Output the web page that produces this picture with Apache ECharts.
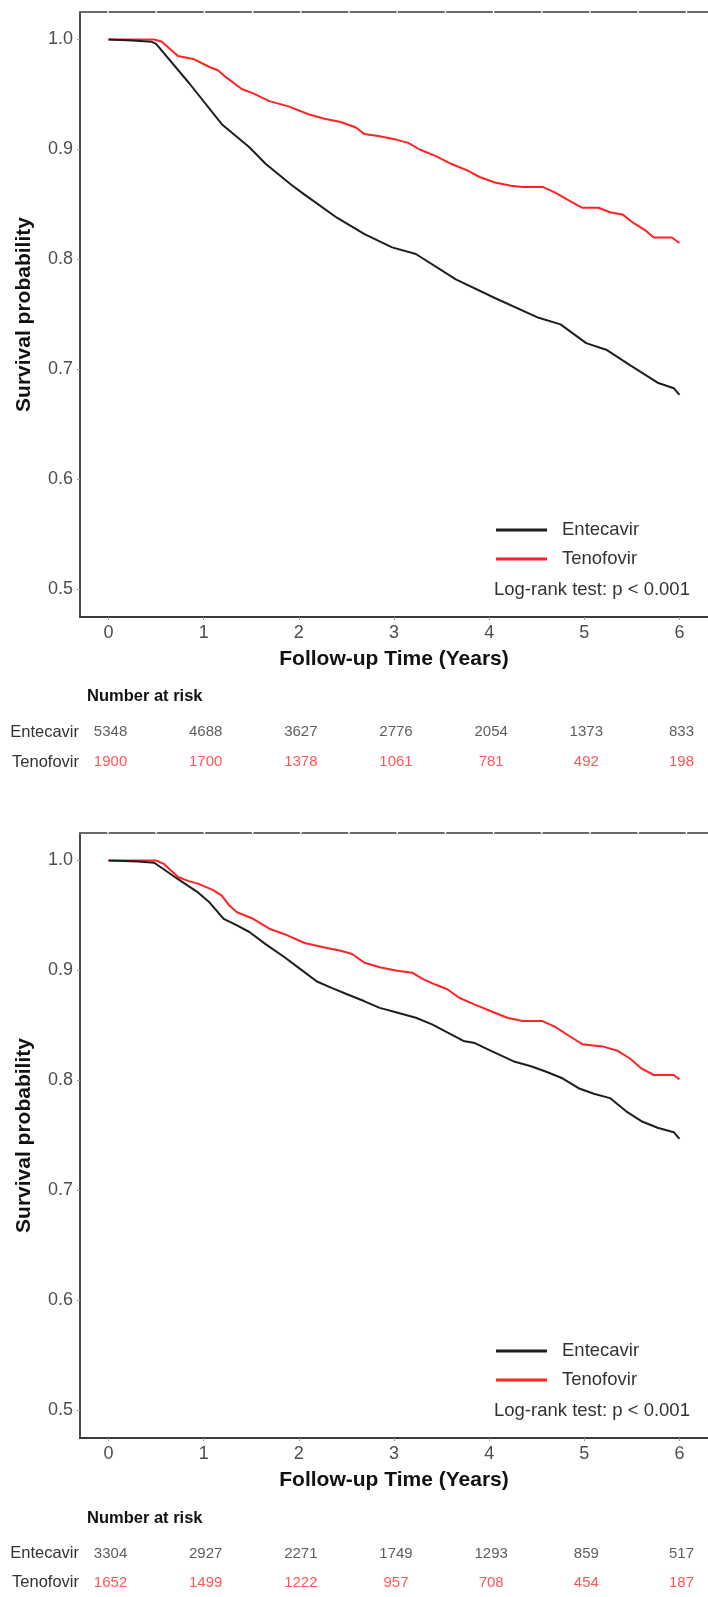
<!DOCTYPE html>
<html>
<head>
<meta charset="utf-8">
<script src="https://cdn.jsdelivr.net/npm/echarts@6/dist/echarts.min.js"></script>
<style>
html,body{margin:0;padding:0;background:#fff;}
#chart{width:708px;height:1597px;}
</style>
</head>
<body>
<div id="chart"></div>
<script>
// ---------- data ----------
const groups = ['Entecavir', 'Tenofovir'];
const xTicks = [0, 1, 2, 3, 4, 5, 6];
const yTicks = [0.5, 0.6, 0.7, 0.8, 0.9, 1.0];

// Panel 1
const p1EntTime = [0,0.25,0.45,0.5,0.85,1.19,1.48,1.65,1.92,2.06,2.4,2.69,2.98,3.23,3.65,4.06,4.52,4.75,5.02,5.23,5.48,5.77,5.94,6.0];
const p1EntSurv = [1.000,0.999,0.998,0.996,0.960,0.923,0.902,0.887,0.868,0.859,0.838,0.823,0.811,0.805,0.782,0.765,0.747,0.741,0.724,0.718,0.704,0.688,0.683,0.677];
const p1TenTime = [0,0.48,0.56,0.73,0.9,1.06,1.15,1.23,1.4,1.52,1.69,1.9,2.1,2.27,2.44,2.6,2.69,2.85,3.02,3.15,3.27,3.44,3.6,3.77,3.9,4.06,4.23,4.35,4.56,4.69,4.85,4.98,5.15,5.27,5.4,5.52,5.65,5.73,5.92,6.0];
const p1TenSurv = [1.000,1.000,0.998,0.985,0.982,0.975,0.972,0.966,0.955,0.951,0.944,0.939,0.932,0.928,0.925,0.920,0.914,0.912,0.909,0.906,0.900,0.894,0.887,0.881,0.875,0.870,0.867,0.866,0.866,0.861,0.853,0.847,0.847,0.843,0.841,0.833,0.826,0.820,0.820,0.815];
const p1RiskEnt = [5348, 4688, 3627, 2776, 2054, 1373, 833];
const p1RiskTen = [1900, 1700, 1378, 1061, 781, 492, 198];

// Panel 2
const p2EntTime = [0,0.31,0.48,0.58,0.73,0.94,1.06,1.21,1.35,1.48,1.65,1.85,2.02,2.19,2.35,2.52,2.69,2.85,3.02,3.23,3.4,3.6,3.73,3.85,4.02,4.27,4.44,4.6,4.77,4.94,5.1,5.27,5.44,5.6,5.77,5.94,6.0];
const p2EntSurv = [1.000,0.999,0.998,0.992,0.983,0.971,0.962,0.947,0.941,0.935,0.924,0.912,0.901,0.890,0.884,0.878,0.872,0.866,0.862,0.857,0.851,0.842,0.836,0.834,0.827,0.817,0.813,0.808,0.802,0.793,0.788,0.784,0.772,0.763,0.757,0.753,0.747];
const p2TenTime = [0,0.5,0.58,0.73,0.85,0.94,1.1,1.19,1.27,1.35,1.52,1.69,1.85,2.06,2.27,2.44,2.56,2.69,2.85,3.02,3.19,3.31,3.44,3.56,3.69,3.85,4.02,4.19,4.35,4.56,4.69,4.85,4.98,5.19,5.35,5.48,5.6,5.73,5.94,6.0];
const p2TenSurv = [1.000,1.000,0.997,0.985,0.981,0.979,0.973,0.968,0.959,0.953,0.947,0.938,0.933,0.925,0.921,0.918,0.915,0.907,0.903,0.900,0.898,0.892,0.887,0.883,0.875,0.869,0.863,0.857,0.854,0.854,0.849,0.840,0.833,0.831,0.827,0.820,0.811,0.805,0.805,0.801];
const p2RiskEnt = [3304, 2927, 2271, 1749, 1293, 859, 517];
const p2RiskTen = [1652, 1499, 1222, 957, 708, 454, 187];

const xTitle = 'Follow-up Time (Years)';
const yTitle = 'Survival probability';
const riskTitle = 'Number at risk';
const testText = 'Log-rank test: p < 0.001';

// ---------- styles ----------
const FONT = "'Liberation Sans', Arial, sans-serif";
const BLACK = '#1e1e1e';
const RED = '#ff2323';
const AXIS = '#3a3a3a';
const TICKTXT = '#4d4d4d';

const pairs = (t, s) => t.map((v, i) => [v, s[i]]);
const riskPts = (vals, g) => vals.map((v, i) => [xTicks[i], g, v]);

const panels = [
  {top: 12, riskTop: 717, ent: pairs(p1EntTime, p1EntSurv), ten: pairs(p1TenTime, p1TenSurv), rEnt: p1RiskEnt, rTen: p1RiskTen},
  {top: 833, riskTop: 1539, ent: pairs(p2EntTime, p2EntSurv), ten: pairs(p2TenTime, p2TenSurv), rEnt: p2RiskEnt, rTen: p2RiskTen}
];
const PH = 605;
const grid = [], xAxis = [], yAxis = [], series = [], legend = [], title = [];

panels.forEach((p) => {
  const gi = grid.length;
  grid.push({left: 80, right: -8, top: p.top, height: PH});
  grid.push({left: 80, right: -8, top: p.riskTop, height: 60});
  const xi = xAxis.length;
  xAxis.push({
    type: 'value', gridIndex: gi, min: -0.3, max: 6.3,
    name: xTitle, nameLocation: 'middle', nameGap: 32,
    nameTextStyle: {fontFamily: FONT, fontWeight: 'bold', fontSize: 21, color: '#111'},
    axisLine: {show: true, onZero: false, lineStyle: {color: AXIS, width: 2}},
    axisTick: {show: true, length: 3, customValues: xTicks, lineStyle: {color: '#999'}},
    axisLabel: {customValues: xTicks, fontFamily: FONT, fontSize: 18, color: TICKTXT, margin: 7},
    splitLine: {show: false}
  });
  xAxis.push({
    type: 'value', gridIndex: gi, position: 'top', min: -0.3, max: 6.3,
    axisLine: {show: true, onZero: false, lineStyle: {color: '#6a6a6a', width: 2, type: [45.2, 3], dashOffset: 18.7}},
    axisTick: {show: false}, axisLabel: {show: false}, splitLine: {show: false}
  });
  const xr = xAxis.length;
  xAxis.push({type: 'value', gridIndex: gi + 1, min: -0.3, max: 6.3, show: false});
  const yi = yAxis.length;
  yAxis.push({
    type: 'value', gridIndex: gi, min: 0.475, max: 1.025,
    name: yTitle, nameLocation: 'middle', nameGap: 45, nameRotate: 90,
    nameTextStyle: {fontFamily: FONT, fontWeight: 'bold', fontSize: 21, color: '#111'},
    axisLine: {show: true, onZero: false, lineStyle: {color: '#4a4a4a', width: 2}},
    axisTick: {show: true, length: 3, customValues: yTicks, lineStyle: {color: '#999'}},
    axisLabel: {customValues: yTicks, formatter: v => v.toFixed(1), fontFamily: FONT, fontSize: 18, color: TICKTXT, margin: 7},
    splitLine: {show: false}
  });
  const yr = yAxis.length;
  yAxis.push({
    type: 'category', gridIndex: gi + 1, data: groups, inverse: true,
    axisLine: {show: false}, axisTick: {show: false},
    axisLabel: {fontFamily: FONT, fontSize: 16.5, color: '#333', margin: 1},
    splitLine: {show: false}
  });
  series.push({
    name: 'Tenofovir', type: 'line', xAxisIndex: xi, yAxisIndex: yi, data: p.ten,
    showSymbol: false, symbol: 'none', lineStyle: {color: RED, width: 2}, itemStyle: {color: RED}, z: 3
  });
  series.push({
    name: 'Entecavir', type: 'line', xAxisIndex: xi, yAxisIndex: yi, data: p.ent,
    showSymbol: false, symbol: 'none', lineStyle: {color: BLACK, width: 2}, itemStyle: {color: BLACK}, z: 4
  });
  [[p.rEnt, 'Entecavir', '#333'], [p.rTen, 'Tenofovir', '#ff2a2a']].forEach(([vals, g, c]) => {
    series.push({
      type: 'scatter', xAxisIndex: xr, yAxisIndex: yr, data: riskPts(vals, g),
      symbolSize: 1, itemStyle: {color: 'rgba(0,0,0,0)'}, silent: true,
      label: {show: true, position: 'inside', offset: [2, 0], formatter: q => String(q.value[2]),
        fontFamily: FONT, fontSize: 15, color: c}
    });
  });
  const base = p.top + PH;
  legend.push({
    data: groups, orient: 'vertical', left: 491, top: base - 105,
    itemWidth: 51, itemHeight: 3, itemGap: 3, icon: 'rect',
    textStyle: {fontFamily: FONT, fontSize: 18.5, color: '#333', lineHeight: 26, padding: [0, 0, 0, 10]},
    selectedMode: false
  });
  title.push({
    text: testText, left: 489, top: base - 42,
    textStyle: {fontFamily: FONT, fontSize: 18.5, fontWeight: 'normal', color: '#333'}
  });
  title.push({
    text: riskTitle, left: 82, top: p.riskTop - 34,
    textStyle: {fontFamily: FONT, fontSize: 16.5, fontWeight: 'bold', color: '#111'}
  });
});

const chart = echarts.init(document.getElementById('chart'), null, {renderer: 'canvas'});
chart.setOption({
  backgroundColor: '#fff',
  animation: false,
  title, legend, grid, xAxis, yAxis, series
});
</script>
</body>
</html>
